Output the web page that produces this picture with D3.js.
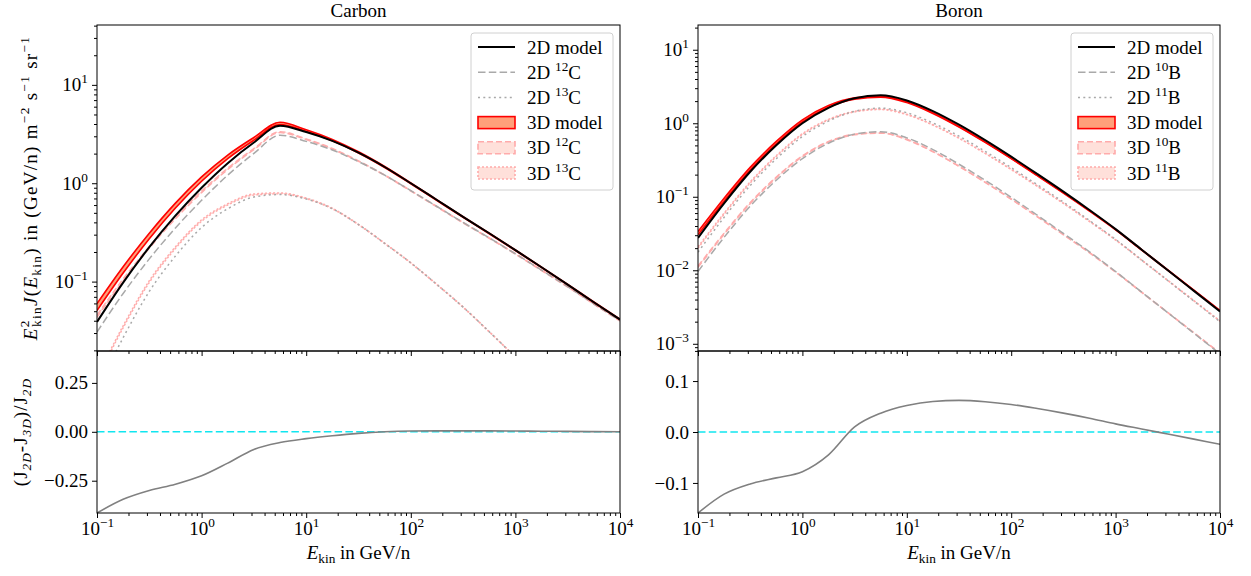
<!DOCTYPE html>
<html>
<head>
<meta charset="utf-8">
<script src="https://cdn.jsdelivr.net/npm/d3@7"></script>
<style>
  body { margin: 0; background: #fff; }
  svg { display: block; font-family: "Liberation Serif", "Times New Roman", serif; }
</style>
</head>
<body>
<svg id="chart" width="1251" height="576"></svg>
<script>
// Kinetic energy per nucleon grid (GeV/n)
const energy = [0.1, 0.1778, 0.3162, 0.5623, 1, 1.778, 3.162, 5.623, 10, 17.78, 31.62,
                56.23, 100, 177.8, 316.2, 562.3, 1000, 1778, 3162, 5623, 10000];

// ---- Carbon: E^2 J(E) ----
const carbon2dModel = [0.0389, 0.0977, 0.2239, 0.4677, 0.8995, 1.600, 2.594, 3.846, 3.311, 2.692, 2.042,
                       1.462, 1.000, 0.675, 0.455, 0.310, 0.209, 0.140, 0.0933, 0.0617, 0.0412];
const carbon2d12C = [0.03073, 0.07572, 0.1702, 0.3508, 0.6701, 1.208, 2.010, 3.077, 2.665, 2.175, 1.660,
                     1.208, 0.841, 0.5798, 0.399, 0.2781, 0.1919, 0.1306, 0.0887, 0.0594, 0.0400];
const carbon2d13C = [0.00794, 0.0269, 0.0794, 0.182, 0.355, 0.550, 0.724, 0.767, 0.692, 0.550, 0.380,
                     0.245, 0.155, 0.0933, 0.0550, 0.0309, 0.0170, 0.00891, 0.00468, 0.00240, 0.00126];
const carbon3dModel = [0.05504, 0.1314, 0.2911, 0.5930, 1.1019, 1.856, 2.827, 4.058, 3.427, 2.746, 2.058,
                       1.462, 0.996, 0.6716, 0.4527, 0.3085, 0.2082, 0.1396, 0.0931, 0.0616, 0.0412];
const carbon3d12C = [0.04456, 0.1037, 0.2230, 0.4438, 0.8175, 1.401, 2.221, 3.308, 2.798, 2.236, 1.680,
                     1.208, 0.8376, 0.5769, 0.397, 0.2767, 0.1911, 0.1302, 0.0885, 0.0593, 0.0400];
const carbon3d13C = [0.01047, 0.0347, 0.1000, 0.2213, 0.4169, 0.6095, 0.7674, 0.7889, 0.7015, 0.5534, 0.380,
                     0.245, 0.155, 0.0933, 0.0550, 0.0309, 0.0170, 0.00891, 0.00468, 0.00240, 0.00126];
// half width (dex) of the 3D uncertainty bands
const carbonSpread = [0.035, 0.032, 0.028, 0.025, 0.022, 0.018, 0.014, 0.011, 0.009, 0.007, 0.006,
                      0.005, 0.004, 0.004, 0.003, 0.003, 0.003, 0.003, 0.003, 0.003, 0.003];
const carbonIsoSpread = [0.012, 0.011, 0.010, 0.009, 0.008, 0.007, 0.006, 0.005, 0.004, 0.004, 0.003,
                         0.003, 0.003, 0.003, 0.003, 0.003, 0.003, 0.003, 0.003, 0.003, 0.003];
// (J_2D - J_3D) / J_2D
const carbonRatio = [-0.415, -0.345, -0.300, -0.268, -0.225, -0.160, -0.090, -0.055, -0.035, -0.020, -0.008,
                     0.000, 0.004, 0.005, 0.005, 0.005, 0.004, 0.003, 0.002, 0.001, 0.000];

// ---- Boron: E^2 J(E) ----
const boron2dModel = [0.02754, 0.08128, 0.2188, 0.5012, 1.000, 1.622, 2.188, 2.399, 2.042, 1.462, 0.9550,
                      0.5888, 0.3508, 0.2042, 0.1175, 0.06607, 0.03631, 0.01905, 0.01000, 0.005248, 0.002754];
const boron2d10B = [0.009639, 0.02804, 0.07439, 0.1679, 0.3300, 0.5353, 0.7111, 0.7677, 0.6330, 0.4386, 0.2770,
                    0.1678, 0.09822, 0.05616, 0.03173, 0.01784, 0.009622, 0.005048, 0.00265, 0.001391, 0.0007298];
const boron2d11B = [0.01763, 0.05243, 0.1422, 0.3283, 0.6600, 1.071, 1.455, 1.607, 1.389, 1.009, 0.6685,
                    0.4151, 0.2491, 0.1460, 0.0846, 0.04757, 0.02632, 0.01381, 0.00725, 0.003805, 0.001997];
const boron3dModel = [0.03192, 0.09120, 0.2411, 0.5463, 1.078, 1.695, 2.166, 2.310, 1.936, 1.374, 0.8958,
                      0.5538, 0.3319, 0.1948, 0.1132, 0.06429, 0.03573, 0.01894, 0.01004, 0.005321, 0.002820];
const boron3d10B = [0.01117, 0.03146, 0.08198, 0.1830, 0.3557, 0.5594, 0.7040, 0.7393, 0.6001, 0.4123, 0.2598,
                    0.1578, 0.09292, 0.05358, 0.03056, 0.01736, 0.009468, 0.005018, 0.002661, 0.00141, 0.0007473];
const boron3d11B = [0.02043, 0.05883, 0.1567, 0.3578, 0.7115, 1.119, 1.440, 1.548, 1.317, 0.9485, 0.6271,
                    0.3904, 0.2356, 0.1393, 0.08147, 0.04629, 0.0259, 0.01373, 0.007279, 0.003858, 0.002045];
const boronSpread = [0.022, 0.020, 0.018, 0.016, 0.014, 0.012, 0.010, 0.008, 0.006, 0.005, 0.004,
                     0.004, 0.003, 0.003, 0.003, 0.003, 0.003, 0.003, 0.003, 0.003, 0.003];
const boronIsoSpread = [0.010, 0.009, 0.008, 0.007, 0.006, 0.005, 0.005, 0.004, 0.004, 0.003, 0.003,
                        0.003, 0.003, 0.003, 0.003, 0.003, 0.003, 0.003, 0.003, 0.003, 0.003];
const boronRatio = [-0.159, -0.122, -0.102, -0.090, -0.078, -0.045, 0.010, 0.037, 0.052, 0.060, 0.062,
                    0.0595, 0.054, 0.046, 0.037, 0.027, 0.016, 0.006, -0.004, -0.014, -0.024];

// Tick values
const xMajorExp = [-1, 0, 1, 2, 3, 4];
const carbonYMajorExp = [-1, 0, 1];
const boronYMajorExp = [-3, -2, -1, 0, 1];
const carbonRatioTicks = [-0.25, 0, 0.25];
const boronRatioTicks = [-0.1, 0, 0.1];

// ---------------------------------------------------------------------------
const FS = 19;
const svg = d3.select("#chart");
const TOP = 25, MID = 351, BOT = 513;

const COL = {
  model2d: "#000000",
  iso2d: "#a9a9a9",
  fill3d: "#ffa07a",
  edge3d: "#ff0000",
  isoFill3d: "rgba(255,170,160,0.35)",
  isoEdge3d: "#ffabab",
  ratio: "#808080",
  zero: "#10e6f0"
};

const panels = [
  {
    id: "c", title: "Carbon", x0: 97, x1: 620, yDomain: [0.0197, 40.6], yMajor: carbonYMajorExp,
    rDomain: [-0.415, 0.413], rTicks: carbonRatioTicks, rFmt: d3.format(".2f"),
    m2: carbon2dModel, a2: carbon2d12C, b2: carbon2d13C,
    m3: carbon3dModel, a3: carbon3d12C, b3: carbon3d13C,
    spread: carbonSpread, isoSpread: carbonIsoSpread, ratio: carbonRatio,
    isoA: "12", isoB: "13", el: "C", ylabels: true
  },
  {
    id: "b", title: "Boron", x0: 698, x1: 1220, yDomain: [7.98e-4, 21.7], yMajor: boronYMajorExp,
    rDomain: [-0.159, 0.159], rTicks: boronRatioTicks, rFmt: d3.format(".1f"),
    m2: boron2dModel, a2: boron2d10B, b2: boron2d11B,
    m3: boron3dModel, a3: boron3d10B, b3: boron3d11B,
    spread: boronSpread, isoSpread: boronIsoSpread, ratio: boronRatio,
    isoA: "10", isoB: "11", el: "B", ylabels: false
  }
];

// Rich text helper: parts = [{t, sup, sub, it, dx}]
function rich(textSel, parts, size) {
  let shift = 0;
  parts.forEach(p => {
    const ts = textSel.append("tspan").text(p.t);
    if (p.it) ts.attr("font-style", "italic");
    const target = p.sup ? -0.42 * size : p.sub ? 0.22 * size : 0;
    if (p.sup || p.sub) ts.attr("font-size", size * 0.7);
    const dy = target - shift;
    if (dy !== 0) ts.attr("dy", dy);
    if (p.dx) ts.attr("dx", p.dx);
    shift = target;
  });
}
function powParts(n) {
  return [{ t: "10" }, { t: n < 0 ? "\u2212" + (-n) : String(n), sup: true }];
}
function minorsFor(domain) {
  const lo = Math.floor(Math.log10(domain[0])), hi = Math.ceil(Math.log10(domain[1]));
  const out = [];
  for (let e = lo; e <= hi; e++) for (let k = 2; k <= 9; k++) {
    const v = k * Math.pow(10, e);
    if (v >= domain[0] && v <= domain[1]) out.push(v);
  }
  return out;
}
function styleAxis(g) {
  g.select(".domain").remove();
  g.attr("font-family", null).attr("font-size", FS);
  g.selectAll(".tick line").attr("stroke", "#000").attr("stroke-width", 1);
  g.selectAll(".tick text").attr("fill", "#000");
}

panels.forEach(P => {
  const x = d3.scaleLog().domain([0.1, 1e4]).range([P.x0, P.x1]);
  const y = d3.scaleLog().domain(P.yDomain).range([MID, TOP]);
  const yr = d3.scaleLinear().domain(P.rDomain).range([BOT, MID]);

  const pts = (vals) => energy.map((e, i) => ({ e, v: vals[i], i }));

  // clip regions
  const defs = svg.append("defs");
  defs.append("clipPath").attr("id", "clipTop" + P.id).append("rect")
    .attr("x", P.x0).attr("y", TOP).attr("width", P.x1 - P.x0).attr("height", MID - TOP);
  defs.append("clipPath").attr("id", "clipBot" + P.id).append("rect")
    .attr("x", P.x0).attr("y", MID).attr("width", P.x1 - P.x0).attr("height", BOT - MID);

  const top = svg.append("g").attr("clip-path", `url(#clipTop${P.id})`);
  const line = d3.line().x(d => x(d.e)).y(d => y(d.v)).curve(d3.curveMonotoneX);

  function band(vals, spread, fill, edge, dash, edgeW) {
    const data = pts(vals).map(d => ({ e: d.e, lo: d.v / Math.pow(10, spread[d.i]), hi: d.v * Math.pow(10, spread[d.i]) }));
    const area = d3.area().x(d => x(d.e)).y0(d => y(d.lo)).y1(d => y(d.hi)).curve(d3.curveMonotoneX);
    top.append("path").datum(data).attr("d", area).attr("fill", fill).attr("stroke", "none");
    ["lo", "hi"].forEach(k => {
      top.append("path").datum(data)
        .attr("d", d3.line().x(d => x(d.e)).y(d => y(d[k])).curve(d3.curveMonotoneX))
        .attr("fill", "none").attr("stroke", edge).attr("stroke-width", edgeW)
        .attr("stroke-dasharray", dash);
    });
  }
  function curve(vals, color, width, dash) {
    top.append("path").datum(pts(vals)).attr("d", line)
      .attr("fill", "none").attr("stroke", color).attr("stroke-width", width)
      .attr("stroke-dasharray", dash).attr("stroke-linejoin", "round");
  }

  // isotope 3D bands
  band(P.a3, P.isoSpread, COL.isoFill3d, COL.isoEdge3d, "6,3", 1.4);
  band(P.b3, P.isoSpread, COL.isoFill3d, COL.isoEdge3d, "2,2", 1.4);
  // 2D isotope curves
  curve(P.a2, COL.iso2d, 1.5, "7.5,3.3");
  curve(P.b2, COL.iso2d, 1.5, "2,3.3");
  // 3D model band
  band(P.m3, P.spread, COL.fill3d, COL.edge3d, null, 1.6);
  // 2D model
  curve(P.m2, COL.model2d, 2, null);

  // ratio panel
  const bot = svg.append("g").attr("clip-path", `url(#clipBot${P.id})`);
  bot.append("line").attr("x1", P.x0).attr("x2", P.x1).attr("y1", yr(0)).attr("y2", yr(0))
    .attr("stroke", COL.zero).attr("stroke-width", 1.6).attr("stroke-dasharray", "7.5,3.3");
  bot.append("path").datum(pts(P.ratio))
    .attr("d", d3.line().x(d => x(d.e)).y(d => yr(d.v)).curve(d3.curveMonotoneX))
    .attr("fill", "none").attr("stroke", COL.ratio).attr("stroke-width", 1.6);

  // ---- axes ----
  const xMaj = xMajorExp.map(n => Math.pow(10, n));
  const xMin = minorsFor([0.1, 1e4]);
  const yMaj = P.yMajor.map(n => Math.pow(10, n));
  const yMin = minorsFor(P.yDomain);

  // top panel: left ticks with labels
  const gyl = svg.append("g").attr("transform", `translate(${P.x0},0)`)
    .call(d3.axisLeft(y).tickValues(yMaj).tickSize(5).tickSizeOuter(0).tickPadding(4).tickFormat(() => ""));
  styleAxis(gyl);
  gyl.selectAll(".tick text").each(function (d) { rich(d3.select(this), powParts(Math.round(Math.log10(d))), FS); });
  const gylm = svg.append("g").attr("transform", `translate(${P.x0},0)`)
    .call(d3.axisLeft(y).tickValues(yMin).tickSize(3).tickSizeOuter(0).tickFormat(() => ""));
  styleAxis(gylm);

  // top panel: bottom ticks, no labels
  const gxt = svg.append("g").attr("transform", `translate(0,${MID})`)
    .call(d3.axisBottom(x).tickValues(xMaj).tickSize(5).tickSizeOuter(0).tickFormat(() => ""));
  styleAxis(gxt);
  const gxtm = svg.append("g").attr("transform", `translate(0,${MID})`)
    .call(d3.axisBottom(x).tickValues(xMin).tickSize(3).tickSizeOuter(0).tickFormat(() => ""));
  styleAxis(gxtm);

  // ratio panel: left linear ticks
  const gyr = svg.append("g").attr("transform", `translate(${P.x0},0)`)
    .call(d3.axisLeft(yr).tickValues(P.rTicks).tickSize(5).tickSizeOuter(0).tickPadding(4).tickFormat(P.rFmt));
  styleAxis(gyr);

  // ratio panel: bottom log ticks with labels
  const gxb = svg.append("g").attr("transform", `translate(0,${BOT})`)
    .call(d3.axisBottom(x).tickValues(xMaj).tickSize(5).tickSizeOuter(0).tickPadding(3.5).tickFormat(() => ""));
  styleAxis(gxb);
  gxb.selectAll(".tick text").each(function (d) { rich(d3.select(this), powParts(Math.round(Math.log10(d))), FS); });
  const gxbm = svg.append("g").attr("transform", `translate(0,${BOT})`)
    .call(d3.axisBottom(x).tickValues(xMin).tickSize(3).tickSizeOuter(0).tickFormat(() => ""));
  styleAxis(gxbm);

  // frames
  [[TOP, MID], [MID, BOT]].forEach(([a, b]) => {
    svg.append("rect").attr("x", P.x0).attr("y", a).attr("width", P.x1 - P.x0).attr("height", b - a)
      .attr("fill", "none").attr("stroke", "#000").attr("stroke-width", 1);
  });

  // title
  svg.append("text").attr("x", (P.x0 + P.x1) / 2).attr("y", 17).attr("text-anchor", "middle")
    .attr("font-size", FS).text(P.title);

  // x label
  const xl = svg.append("text").attr("x", (P.x0 + P.x1) / 2).attr("y", 559).attr("text-anchor", "middle")
    .attr("font-size", FS);
  rich(xl, [{ t: "E", it: true }, { t: "kin", sub: true }, { t: " in GeV/n" }], FS);

  // y labels
  if (P.ylabels) {
    const yl = svg.append("text").attr("transform", `translate(37,${(TOP + MID) / 2}) rotate(-90)`)
      .attr("text-anchor", "middle").attr("font-size", FS).attr("letter-spacing", 1.3);
    rich(yl, [
      { t: "E", it: true }, { t: "2", sup: true }, { t: "kin", sub: true, dx: -7.5 },
      { t: "J", it: true }, { t: "(" }, { t: "E", it: true }, { t: "kin", sub: true }, { t: ") in (GeV/n) m" },
      { t: "\u22122", sup: true }, { t: " s" }, { t: "\u22121", sup: true }, { t: " sr" }, { t: "\u22121", sup: true }
    ], FS);
    const yl2 = svg.append("text").attr("transform", `translate(27,${(MID + BOT) / 2}) rotate(-90)`)
      .attr("text-anchor", "middle").attr("font-size", FS).attr("letter-spacing", 1);
    rich(yl2, [
      { t: "(J" }, { t: "2D", sub: true, it: true }, { t: "-J" }, { t: "3D", sub: true, it: true },
      { t: ")/J" }, { t: "2D", sub: true, it: true }
    ], FS);
  }

  // ---- legend ----
  const lx = P.x1 - 149, ly = 33, lw = 142, lh = 157;
  const lg = svg.append("g");
  lg.append("rect").attr("x", lx).attr("y", ly).attr("width", lw).attr("height", lh).attr("rx", 3)
    .attr("fill", "rgba(255,255,255,0.8)").attr("stroke", "#d0d0d0").attr("stroke-width", 1);
  const rows = [
    { kind: "line", color: COL.model2d, w: 2, dash: null, label: [{ t: "2D model" }] },
    { kind: "line", color: COL.iso2d, w: 1.5, dash: "7.5,3.3", label: [{ t: "2D " }, { t: P.isoA, sup: true }, { t: P.el }] },
    { kind: "line", color: COL.iso2d, w: 1.5, dash: "2,3.3", label: [{ t: "2D " }, { t: P.isoB, sup: true }, { t: P.el }] },
    { kind: "patch", fill: COL.fill3d, edge: COL.edge3d, dash: null, label: [{ t: "3D model" }] },
    { kind: "patch", fill: "#ffe0da", edge: COL.isoEdge3d, dash: "6,3", label: [{ t: "3D " }, { t: P.isoA, sup: true }, { t: P.el }] },
    { kind: "patch", fill: "#ffe0da", edge: COL.isoEdge3d, dash: "2,2", label: [{ t: "3D " }, { t: P.isoB, sup: true }, { t: P.el }] }
  ];
  rows.forEach((r, i) => {
    const cy = ly + 14 + i * 25.2;
    const hx0 = lx + 7, hx1 = lx + 44;
    if (r.kind === "line") {
      lg.append("line").attr("x1", hx0).attr("x2", hx1).attr("y1", cy).attr("y2", cy)
        .attr("stroke", r.color).attr("stroke-width", r.w).attr("stroke-dasharray", r.dash);
    } else {
      lg.append("rect").attr("x", hx0).attr("y", cy - 6).attr("width", hx1 - hx0).attr("height", 12)
        .attr("fill", r.fill).attr("stroke", r.edge).attr("stroke-width", 1.6).attr("stroke-dasharray", r.dash);
    }
    const t = lg.append("text").attr("x", lx + 56).attr("y", cy + 6.5).attr("font-size", FS);
    rich(t, r.label, FS);
  });
});
</script>
</body>
</html>
